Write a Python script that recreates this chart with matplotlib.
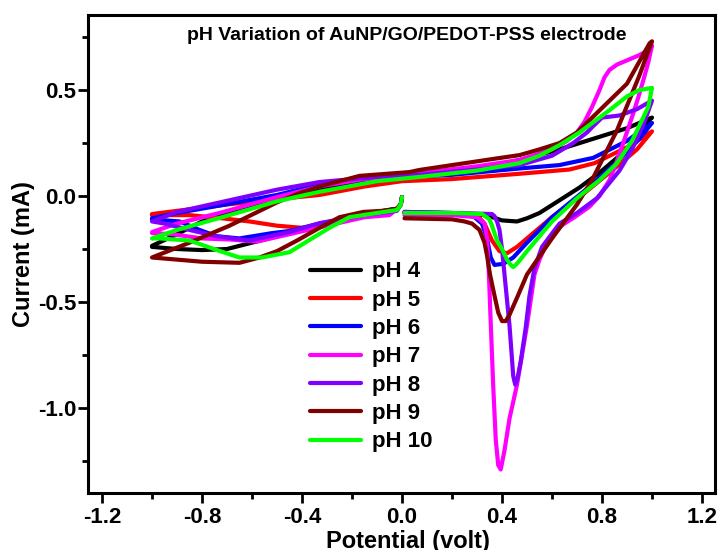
import matplotlib
matplotlib.use("Agg")
import matplotlib.pyplot as plt
from matplotlib.ticker import MultipleLocator, FormatStrFormatter

plt.rcParams['font.family'] = ['Liberation Sans', 'DejaVu Sans']
plt.rcParams['font.weight'] = 'bold'
plt.rcParams['axes.unicode_minus'] = False

labels = ["pH 4", "pH 5", "pH 6", "pH 7", "pH 8", "pH 9", "pH 10"]
colors = ["#000000", "#ff0000", "#0000ff", "#ff00ff", "#8000ff", "#800000", "#00ff00"]

# Each loop: start spike at 0 V -> cathodic to -1.0 V -> anodic to +1.0 V -> back to 0 V
ph4_v = [0.0, -0.005, -0.02, -0.1, -0.2, -0.3, -0.4, -0.5, -0.6, -0.7, -0.8, -0.9, -1.0,
         -1.0, -0.9, -0.8, -0.69, -0.5, -0.33, -0.15, 0.0, 0.2, 0.35, 0.47, 0.63, 0.765, 0.9, 1.0,
         0.99, 0.9, 0.79, 0.71, 0.63, 0.55, 0.5, 0.46, 0.4, 0.35, 0.3, 0.15, 0.01]
ph4_i = [-0.005, -0.04, -0.06, -0.075, -0.1, -0.13, -0.16, -0.19, -0.22, -0.25, -0.255, -0.25, -0.24,
         -0.235, -0.18, -0.12, -0.08, -0.02, 0.03, 0.07, 0.09, 0.11, 0.14, 0.17, 0.22, 0.27, 0.32, 0.37,
         0.36, 0.22, 0.11, 0.04, -0.02, -0.08, -0.105, -0.12, -0.115, -0.095, -0.085, -0.08, -0.08]

ph5_v = [0.0, -0.005, -0.02, -0.1, -0.2, -0.3, -0.4, -0.5, -0.61, -0.72, -0.85, -1.0,
         -1.0, -0.9, -0.7, -0.5, -0.33, -0.15, 0.0, 0.2, 0.47, 0.67, 0.77, 0.9, 1.0,
         0.94, 0.85, 0.73, 0.6, 0.5, 0.46, 0.42, 0.39, 0.36, 0.33, 0.3, 0.25, 0.01]
ph5_i = [-0.005, -0.04, -0.06, -0.075, -0.1, -0.135, -0.15, -0.14, -0.12, -0.105, -0.09, -0.09,
         -0.085, -0.07, -0.04, -0.015, 0.005, 0.045, 0.07, 0.08, 0.105, 0.125, 0.155, 0.23, 0.305,
         0.22, 0.13, 0.014, -0.1, -0.2, -0.24, -0.27, -0.26, -0.21, -0.13, -0.09, -0.085, -0.08]

ph6_v = [0.0, -0.005, -0.02, -0.15, -0.33, -0.45, -0.52, -0.65, -0.74, -0.81, -0.89, -1.0,
         -1.0, -0.9, -0.73, -0.5, -0.33, -0.15, 0.0, 0.2, 0.47, 0.63, 0.765, 0.9, 1.0,
         0.95, 0.85, 0.73, 0.6, 0.5, 0.445, 0.405, 0.37, 0.355, 0.34, 0.32, 0.28, 0.2, 0.01]
ph6_i = [-0.005, -0.04, -0.06, -0.09, -0.13, -0.165, -0.175, -0.2, -0.19, -0.16, -0.12, -0.11,
         -0.105, -0.08, -0.045, 0.005, 0.055, 0.08, 0.09, 0.1, 0.13, 0.146, 0.18, 0.26, 0.345,
         0.27, 0.15, 0.025, -0.1, -0.22, -0.29, -0.32, -0.325, -0.29, -0.2, -0.13, -0.09, -0.08, -0.075]

ph7_v = [0.0, -0.005, -0.02, -0.05, -0.15, -0.29, -0.45, -0.58, -0.69, -0.8, -0.92, -1.0,
         -1.0, -0.9, -0.73, -0.5, -0.33, -0.15, 0.0, 0.07, 0.3, 0.47, 0.6, 0.66, 0.7, 0.73, 0.76,
         0.79, 0.81, 0.83, 0.86, 0.9, 0.95, 0.98, 1.0,
         0.985, 0.965, 0.945, 0.925, 0.885, 0.855, 0.83, 0.79, 0.75, 0.69, 0.63, 0.58, 0.55, 0.53,
         0.5, 0.46, 0.43, 0.41, 0.395, 0.385, 0.375, 0.365, 0.355, 0.347, 0.34, 0.33, 0.3, 0.2, 0.01]
ph7_i = [-0.005, -0.04, -0.06, -0.09, -0.1, -0.137, -0.18, -0.215, -0.205, -0.2, -0.18, -0.175,
         -0.17, -0.13, -0.08, -0.005, 0.045, 0.08, 0.1, 0.108, 0.14, 0.17, 0.22, 0.26, 0.3, 0.35, 0.42,
         0.5, 0.56, 0.595, 0.62, 0.64, 0.665, 0.685, 0.71,
         0.63, 0.545, 0.465, 0.39, 0.25, 0.15, 0.075, 0.0, -0.05, -0.1, -0.145, -0.22, -0.3, -0.37,
         -0.61, -0.89, -1.05, -1.2, -1.29, -1.27, -1.15, -0.9, -0.6, -0.35, -0.2, -0.13, -0.1, -0.09, -0.09]

ph8_v = [0.0, -0.005, -0.02, -0.155, -0.33, -0.45, -0.61, -0.74, -0.85, -0.95, -1.0,
         -1.0, -0.9, -0.69, -0.5, -0.33, -0.1, 0.07, 0.3, 0.47, 0.6, 0.685, 0.74, 0.765, 0.8, 0.87,
         0.94, 1.0,
         0.97, 0.92, 0.87, 0.78, 0.7, 0.63, 0.56, 0.53, 0.51, 0.495, 0.475, 0.462, 0.453, 0.445, 0.43,
         0.41, 0.4, 0.39, 0.38, 0.37, 0.36, 0.2, 0.01]
ph8_i = [-0.005, -0.04, -0.07, -0.09, -0.128, -0.17, -0.21, -0.19, -0.16, -0.13, -0.12,
         -0.12, -0.075, -0.02, 0.03, 0.066, 0.09, 0.1, 0.125, 0.146, 0.19, 0.25, 0.3, 0.33, 0.37, 0.38,
         0.41, 0.45,
         0.35, 0.22, 0.12, -0.01, -0.08, -0.13, -0.24, -0.34, -0.47, -0.62, -0.78, -0.86, -0.89, -0.85,
         -0.61, -0.37, -0.25, -0.16, -0.12, -0.095, -0.085, -0.08, -0.075]

ph9_v = [0.0, -0.005, -0.02, -0.08, -0.155, -0.25, -0.33, -0.42, -0.5, -0.57, -0.65, -0.8, -0.9, -1.0,
         -1.0, -0.85, -0.69, -0.5, -0.41, -0.33, -0.17, 0.03, 0.07, 0.365, 0.47, 0.55, 0.63, 0.7,
         0.765, 0.9, 0.99, 1.0,
         0.95, 0.86, 0.76, 0.7, 0.6, 0.5, 0.46, 0.43, 0.415, 0.4, 0.385, 0.37, 0.352, 0.34, 0.33,
         0.31, 0.28, 0.25, 0.2, 0.01]
ph9_i = [-0.005, -0.04, -0.06, -0.07, -0.075, -0.1, -0.15, -0.21, -0.26, -0.29, -0.315, -0.31, -0.3, -0.29,
         -0.29, -0.22, -0.14, -0.03, 0.014, 0.045, 0.095, 0.113, 0.123, 0.175, 0.193, 0.22, 0.25, 0.3,
         0.375, 0.53, 0.72, 0.73,
         0.57, 0.31, 0.075, -0.04, -0.2, -0.37, -0.48, -0.56, -0.59, -0.59, -0.55, -0.47, -0.37, -0.28,
         -0.22, -0.16, -0.13, -0.12, -0.11, -0.105]

ph10_v = [0.0, -0.005, -0.02, -0.1, -0.21, -0.29, -0.36, -0.45, -0.56, -0.65, -0.74, -0.85, -0.97, -1.0,
          -1.0, -0.9, -0.69, -0.5, -0.33, -0.1, 0.07, 0.3, 0.47, 0.55, 0.63, 0.71, 0.83, 0.9, 0.95, 1.0,
          0.985, 0.92, 0.86, 0.79, 0.7, 0.6, 0.5, 0.47, 0.455, 0.445, 0.435, 0.42, 0.4, 0.38, 0.36,
          0.35, 0.32, 0.2, 0.01]
ph10_i = [-0.005, -0.04, -0.066, -0.08, -0.1, -0.15, -0.2, -0.265, -0.29, -0.29, -0.255, -0.21, -0.2, -0.2,
          -0.2, -0.16, -0.09, -0.025, 0.02, 0.07, 0.09, 0.12, 0.155, 0.19, 0.24, 0.3, 0.405, 0.47, 0.5, 0.51,
          0.42, 0.26, 0.155, 0.075, -0.01, -0.12, -0.26, -0.305, -0.325, -0.335, -0.325, -0.3, -0.25,
          -0.21, -0.14, -0.11, -0.085, -0.08, -0.08]

potentials = [ph4_v, ph5_v, ph6_v, ph7_v, ph8_v, ph9_v, ph10_v]
currents = [ph4_i, ph5_i, ph6_i, ph7_i, ph8_i, ph9_i, ph10_i]

x_ticks = [-1.2, -0.8, -0.4, 0.0, 0.4, 0.8, 1.2]
y_ticks = [-1.0, -0.5, 0.0, 0.5]

fig = plt.figure(figsize=(7.2, 5.5), dpi=100)
ax = fig.add_axes([88/720, 57/550, 627/720, 478/550])

for v, i, c, lab in zip(potentials, currents, colors, labels):
    ax.plot(v, i, color=c, lw=3.0, label=lab, solid_joinstyle='round', solid_capstyle='round')

ax.set_xlim(-1.256, 1.252)
ax.set_ylim(-1.401, 0.854)
ax.set_xticks(x_ticks)
ax.set_yticks(y_ticks)
ax.xaxis.set_minor_locator(MultipleLocator(0.2))
ax.yaxis.set_minor_locator(MultipleLocator(0.25))
ax.xaxis.set_major_formatter(FormatStrFormatter('%.1f'))
ax.yaxis.set_major_formatter(FormatStrFormatter('%.1f'))

for s in ax.spines.values():
    s.set_linewidth(2.2)
ax.tick_params(which='major', direction='out', length=7, width=2, labelsize=16, pad=3)
ax.tick_params(which='minor', direction='out', length=4, width=2)
ax.tick_params(axis='y', which='major', pad=1.5)
for t in ax.get_xticklabels() + ax.get_yticklabels():
    t.set_fontweight('bold')

ax.set_xlabel("Potential (volt)", fontsize=17, fontweight='bold', va='baseline')
ax.xaxis.set_label_coords(0.51, -0.115)
ax.set_ylabel("Current (mA)", fontsize=17, fontweight='bold')
ax.yaxis.set_label_coords(-0.085, 0.5)

ax.text(0.508, 0.948, "pH Variation of AuNP/GO/PEDOT-PSS electrode", transform=ax.transAxes,
        ha='center', va='baseline', fontsize=14, fontweight='bold')

leg = ax.legend(loc='upper left', bbox_to_anchor=(0.354, 0.4845), frameon=False,
                borderpad=0, borderaxespad=0, handlelength=2.3, handletextpad=0.5,
                labelspacing=0.33, prop={'size': 16, 'weight': 'bold'})

fig.savefig("out.png", dpi=100)
